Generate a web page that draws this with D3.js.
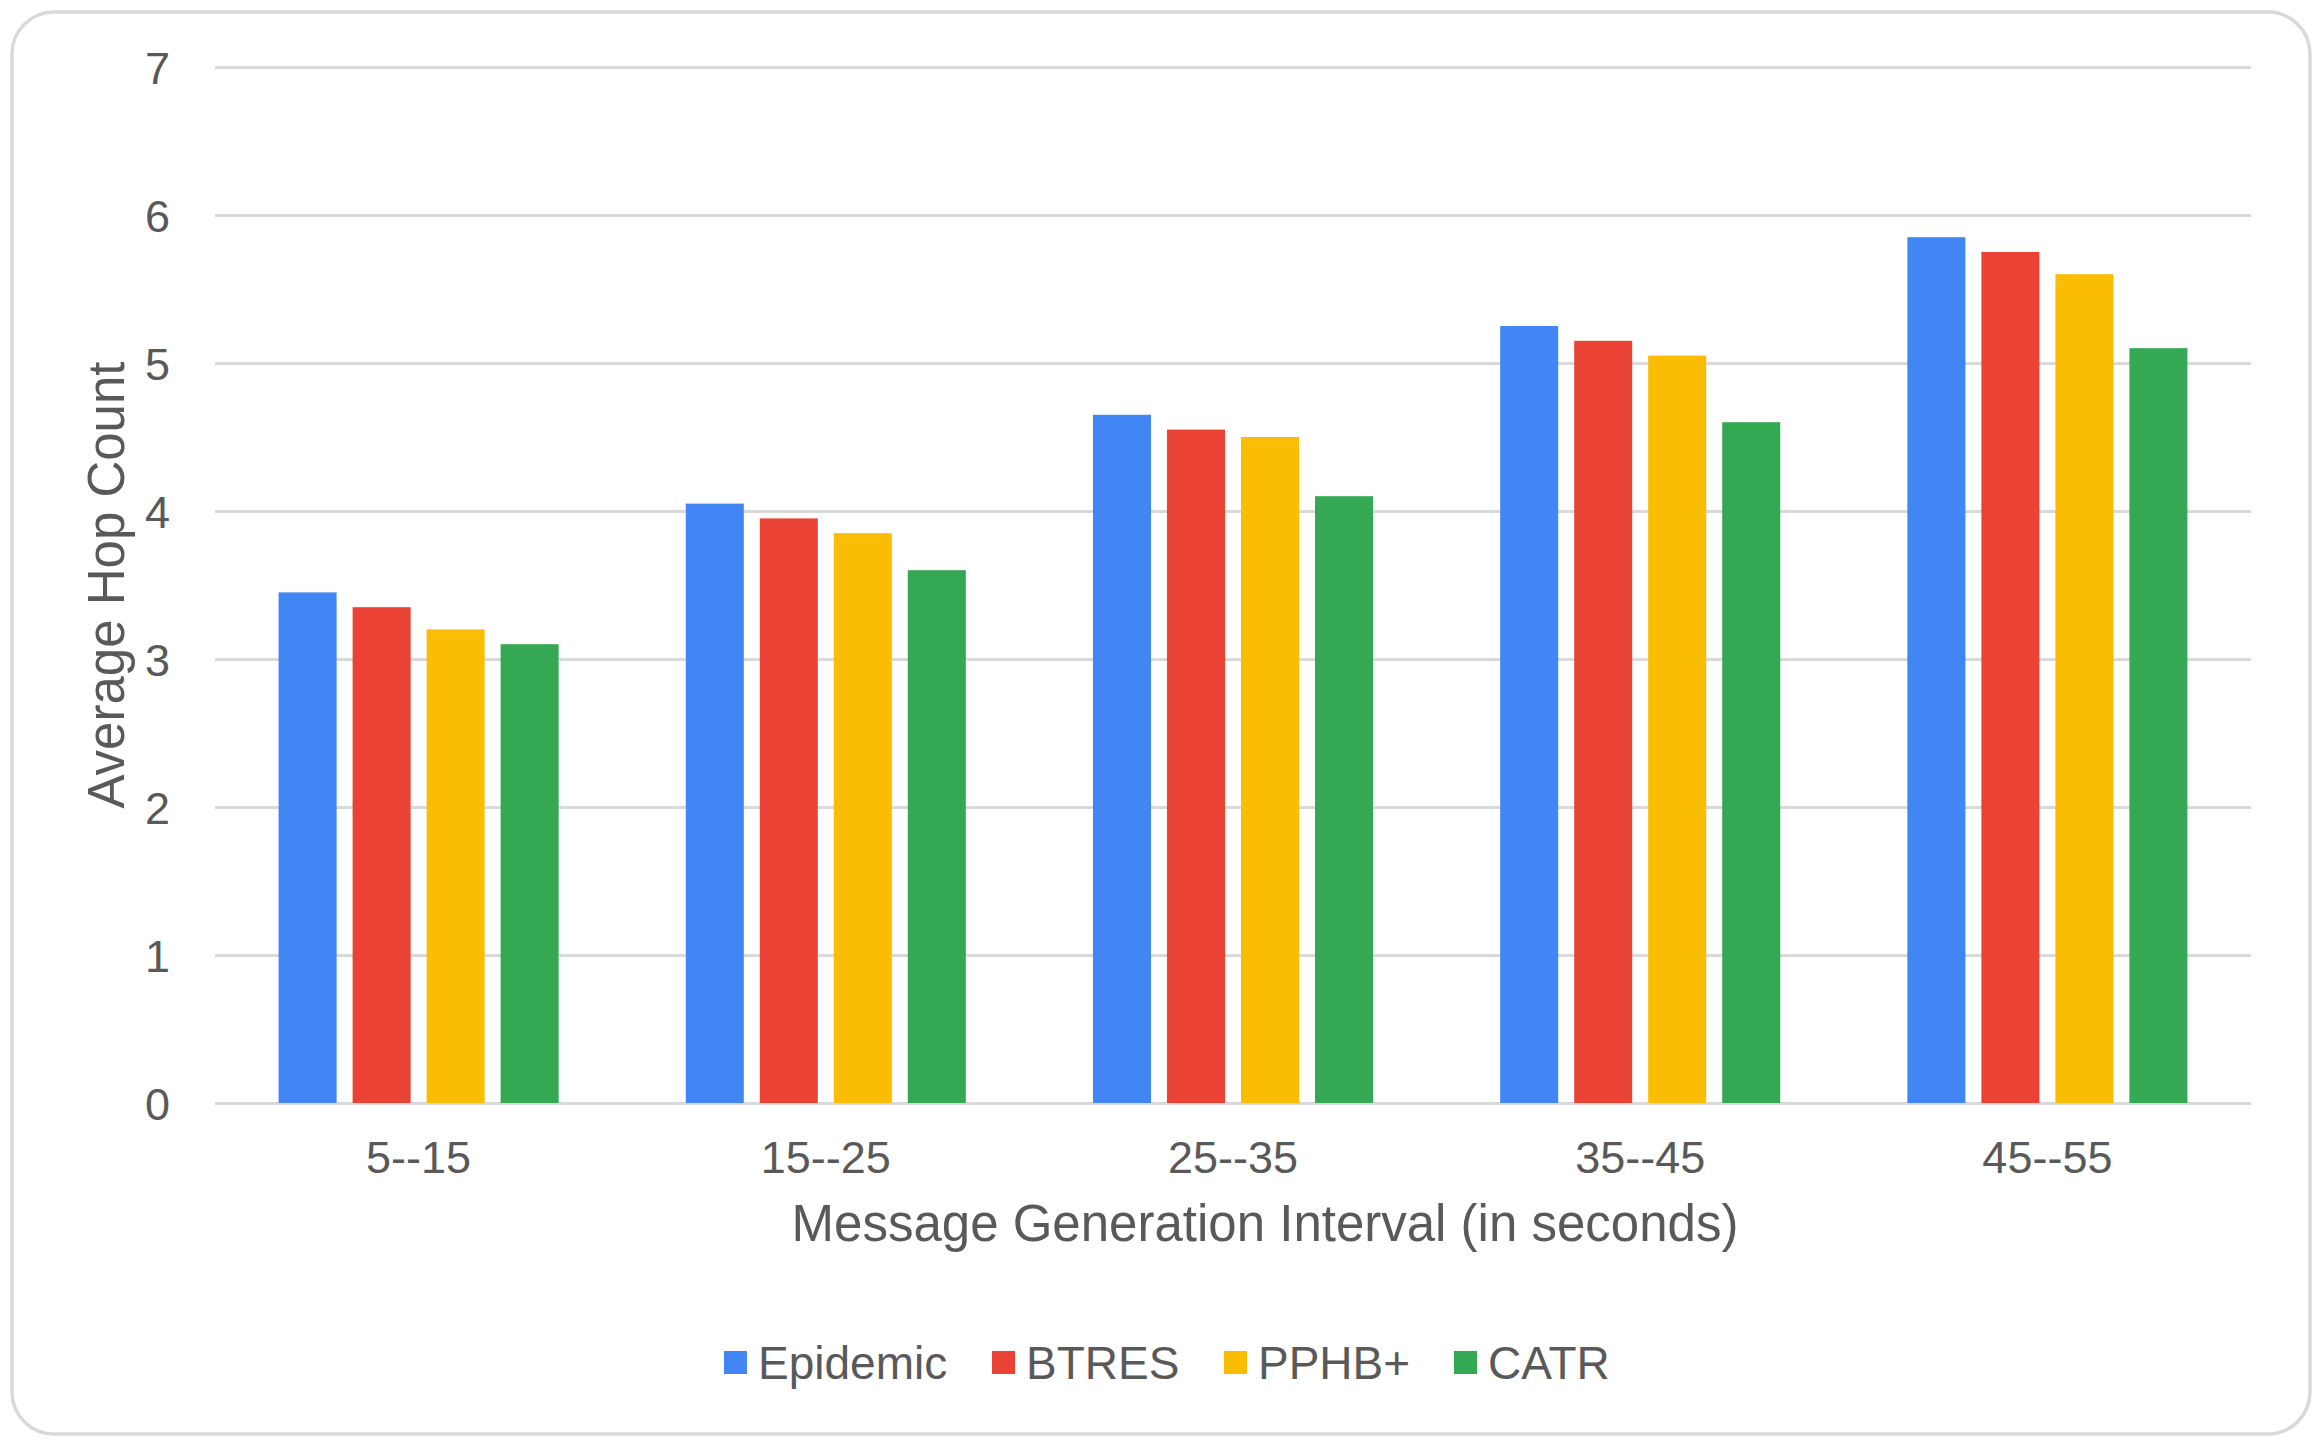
<!DOCTYPE html>
<html>
<head>
<meta charset="utf-8">
<script src="https://cdn.jsdelivr.net/npm/d3@7"></script>
<style>
  html, body { margin: 0; padding: 0; background: #fff; }
  svg { display: block; font-family: "Liberation Sans", Arial, sans-serif; }
</style>
</head>
<body>
<svg width="2322" height="1447"></svg>
<script>

var categories = ["5--15", "15--25", "25--35", "35--45", "45--55"];
var seriesNames = ["Epidemic", "BTRES", "PPHB+", "CATR"];
var epidemic = [3.45, 4.05, 4.65, 5.25, 5.85];
var btres    = [3.35, 3.95, 4.55, 5.15, 5.75];
var pphb     = [3.2, 3.85, 4.5, 5.05, 5.6];
var catr     = [3.1, 3.6, 4.1, 4.6, 5.1];
var yTicks = [0, 1, 2, 3, 4, 5, 6, 7];
var colors = ["#4285F4", "#EA4335", "#FBBC04", "#34A853"];

var values = [epidemic, btres, pphb, catr];

var svg = d3.select("svg"),
    margin = {top: 67, right: 71, bottom: 344, left: 215},
    width = +svg.attr("width") - margin.left - margin.right,
    height = +svg.attr("height") - margin.top - margin.bottom,
    g = svg.append("g").attr("transform", "translate(" + margin.left + "," + margin.top + ")");

// rounded frame round the whole chart
svg.append("rect")
    .attr("x", 12)
    .attr("y", 12)
    .attr("width", 2298)
    .attr("height", 1422)
    .attr("rx", 42)
    .attr("fill", "none")
    .attr("stroke", "#d9d9d9")
    .attr("stroke-width", 3.5);

var x0 = d3.scaleBand()
    .domain(categories)
    .range([0, width])
    .paddingInner(0.273)
    .paddingOuter(0.1365);

var x1 = d3.scaleBand()
    .domain(seriesNames)
    .range([0, x0.bandwidth()])
    .paddingInner(0.216)
    .paddingOuter(0.108);

var y = d3.scaleLinear()
    .domain([0, 7])
    .range([height, 0]);

// gridlines + y labels
var yAxis = g.append("g")
    .call(d3.axisLeft(y).tickValues(yTicks).tickSize(-width).tickPadding(45).tickFormat(d3.format("d")));
yAxis.select(".domain").remove();
yAxis.selectAll(".tick line")
    .attr("stroke", "#d9d9d9")
    .attr("stroke-width", 3);
yAxis.selectAll(".tick text")
    .attr("fill", "#595959")
    .attr("font-size", 45)
    .attr("dy", "0.36em");

// bars
var rows = categories.map(function(c, i) {
  return seriesNames.map(function(s, j) { return {cat: c, key: s, value: values[j][i], color: colors[j]}; });
});

g.append("g")
  .selectAll("g")
  .data(rows)
  .enter().append("g")
    .attr("transform", function(d, i) { return "translate(" + x0(categories[i]) + ",0)"; })
  .selectAll("rect")
  .data(function(d) { return d; })
  .enter().append("rect")
    .attr("x", function(d) { return x1(d.key); })
    .attr("y", function(d) { return y(d.value); })
    .attr("width", x1.bandwidth())
    .attr("height", function(d) { return height - y(d.value); })
    .attr("fill", function(d) { return d.color; });

// x labels
var xAxis = g.append("g")
    .attr("transform", "translate(0," + height + ")")
    .call(d3.axisBottom(x0).tickSize(0).tickPadding(38));
xAxis.select(".domain").remove();
xAxis.selectAll(".tick text")
    .attr("fill", "#595959")
    .attr("font-size", 45);

// axis titles
svg.append("text")
    .attr("x", 1265)
    .attr("y", 1241)
    .attr("text-anchor", "middle")
    .attr("fill", "#595959")
    .attr("font-size", 51)
    .text("Message Generation Interval (in seconds)");

svg.append("text")
    .attr("transform", "translate(124,585) rotate(-90)")
    .attr("text-anchor", "middle")
    .attr("fill", "#595959")
    .attr("font-size", 51)
    .text("Average Hop Count");

// legend
var legendX = [724, 992, 1224, 1454];
var legend = svg.append("g")
  .selectAll("g")
  .data(seriesNames)
  .enter().append("g")
    .attr("transform", function(d, i) { return "translate(" + legendX[i] + ",1362)"; });

legend.append("rect")
    .attr("x", 0)
    .attr("y", -11)
    .attr("width", 23)
    .attr("height", 23)
    .attr("fill", function(d, i) { return colors[i]; });

legend.append("text")
    .attr("x", 34)
    .attr("dy", "0.36em")
    .attr("fill", "#595959")
    .attr("font-size", 46)
    .text(function(d) { return d; });

</script>
</body>
</html>
